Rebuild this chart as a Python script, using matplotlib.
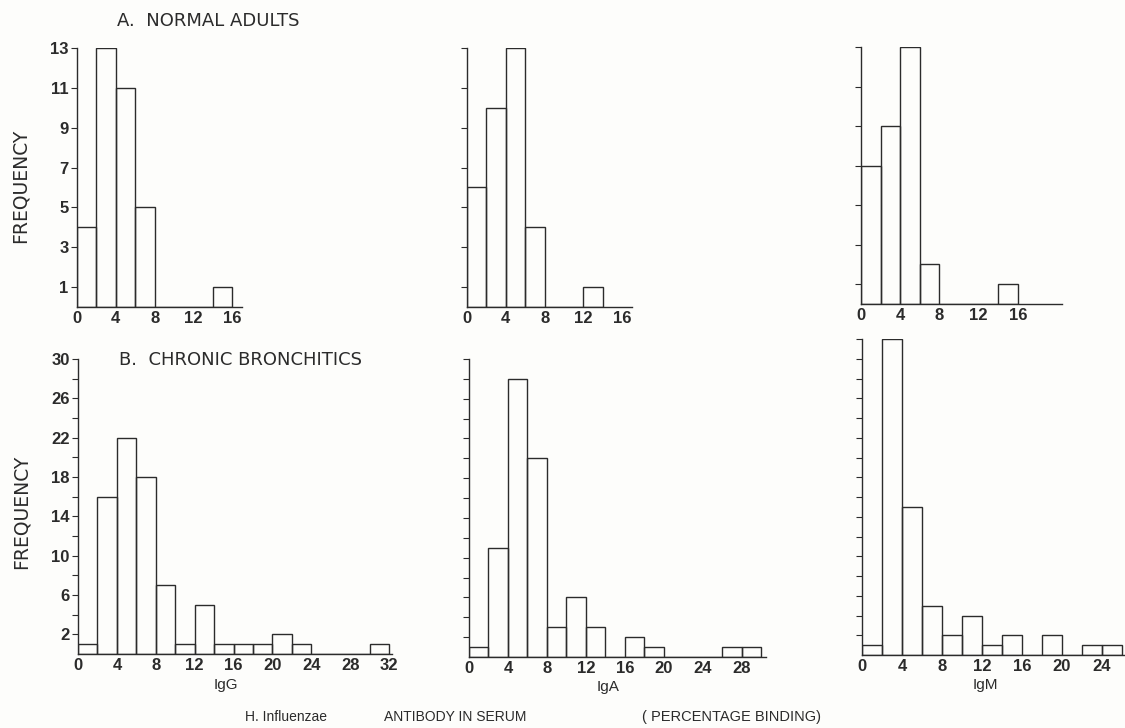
import numpy as np
import matplotlib
matplotlib.use("Agg")
import matplotlib.pyplot as plt

# frequencies per 2%-wide bin, starting at 0
normal_igg = [4, 13, 11, 5, 0, 0, 0, 1]
normal_iga = [6, 10, 13, 4, 0, 0, 1]
normal_igm = [7, 9, 13, 2, 0, 0, 0, 1]

bronch_igg = [1, 16, 22, 18, 7, 1, 5, 1, 1, 1, 2, 1, 0, 0, 0, 1]
bronch_iga = [1, 11, 28, 20, 3, 6, 3, 0, 2, 1, 0, 0, 0, 1, 1]
bronch_igm = [1, 32, 15, 5, 2, 4, 1, 2, 0, 2, 0, 1, 1]

bin_width = 2
ink = "#2b2b2b"
num_font = ["Liberation Sans Narrow", "Liberation Sans", "DejaVu Sans"]

W, H = 1125, 728
fig = plt.figure(figsize=(W / 100, H / 100), dpi=100)
fig.patch.set_facecolor("#fdfdfb")


def make_axes(left, right, top, base):
    return fig.add_axes([left / W, (H - base) / H, (right - left) / W, (base - top) / H])


def hist_panel(ax, counts, xmax, ymax, xticks, yticks, ylabels=False, minor=None):
    edges = np.arange(len(counts)) * bin_width
    ax.bar(edges, counts, width=bin_width, align="edge", fill=False,
           edgecolor=ink, linewidth=1.0)
    ax.set_xlim(0, xmax)
    ax.set_ylim(0, ymax)
    ax.set_facecolor("none")
    for s in ["top", "right"]:
        ax.spines[s].set_visible(False)
    for s in ["left", "bottom"]:
        ax.spines[s].set_color(ink)
        ax.spines[s].set_linewidth(1.0)
    ax.set_xticks(xticks)
    ax.set_xticklabels([str(t) for t in xticks], family=num_font, weight="bold")
    ax.set_yticks(yticks)
    if ylabels:
        ax.set_yticklabels([str(t) for t in yticks], family=num_font, weight="bold")
    else:
        ax.set_yticklabels([])
    if minor is not None:
        ax.set_yticks(minor, minor=True)
        ax.tick_params(axis="y", which="minor", length=4, width=0.8, color=ink)
    ax.tick_params(axis="x", length=0, pad=3, labelsize=12, colors=ink)
    ax.tick_params(axis="y", direction="out", length=4, width=0.8, pad=2,
                   labelsize=12, colors=ink)


top_ticks = [1, 3, 5, 7, 9, 11, 13]

ax1 = make_axes(77, 242, 48, 307)
hist_panel(ax1, normal_igg, 17, 13, [0, 4, 8, 12, 16], top_ticks, ylabels=True)
ax2 = make_axes(467, 632, 48, 307)
hist_panel(ax2, normal_iga, 17, 13, [0, 4, 8, 12, 16], top_ticks)
ax3 = make_axes(861, 1062, 47, 304)
hist_panel(ax3, normal_igm, 20.5, 13, [0, 4, 8, 12, 16], top_ticks)

ax4 = make_axes(78, 392, 359, 654)
hist_panel(ax4, bronch_igg, 32.3, 30, list(range(0, 33, 4)), list(range(2, 31, 4)),
           ylabels=True, minor=list(range(4, 29, 4)))
ax5 = make_axes(469, 766, 359, 657)
hist_panel(ax5, bronch_iga, 30.5, 30, list(range(0, 29, 4)), list(range(2, 31, 2)))
ax6 = make_axes(862, 1124, 339, 655)
hist_panel(ax6, bronch_igm, 26.2, 32, list(range(0, 25, 4)), list(range(2, 33, 2)))

# texts
fig.text(117 / W, 1 - 21 / H, "A.  NORMAL ADULTS", fontsize=13, color=ink, va="center")
fig.text(119 / W, 1 - 360 / H, "B.  CHRONIC BRONCHITICS", fontsize=13, color=ink, va="center")
fig.text(20 / W, 1 - 186 / H, "FREQUENCY", rotation=90, fontsize=13.5, color=ink,
         ha="center", va="center")
fig.text(21 / W, 1 - 512 / H, "FREQUENCY", rotation=90, fontsize=13.5, color=ink,
         ha="center", va="center")
fig.text(226 / W, 1 - 685 / H, "IgG", fontsize=11, color=ink, ha="center", va="center",
         family="Liberation Sans")
fig.text(608 / W, 1 - 687 / H, "IgA", fontsize=11, color=ink, ha="center", va="center",
         family="Liberation Sans")
fig.text(985 / W, 1 - 685 / H, "IgM", fontsize=11, color=ink, ha="center", va="center",
         family="Liberation Sans")
fig.text(286 / W, 1 - 717 / H, "H. Influenzae", fontsize=10, color=ink, ha="center",
         va="center", family=num_font)
fig.text(455 / W, 1 - 717 / H, "ANTIBODY IN SERUM", fontsize=10, color=ink, ha="center",
         va="center", family="Liberation Sans")
fig.text(731 / W, 1 - 717 / H, "( PERCENTAGE BINDING)", fontsize=10.5, color=ink,
         ha="center", va="center", family="Liberation Sans")

fig.savefig("out.png", dpi=100, facecolor=fig.get_facecolor())
